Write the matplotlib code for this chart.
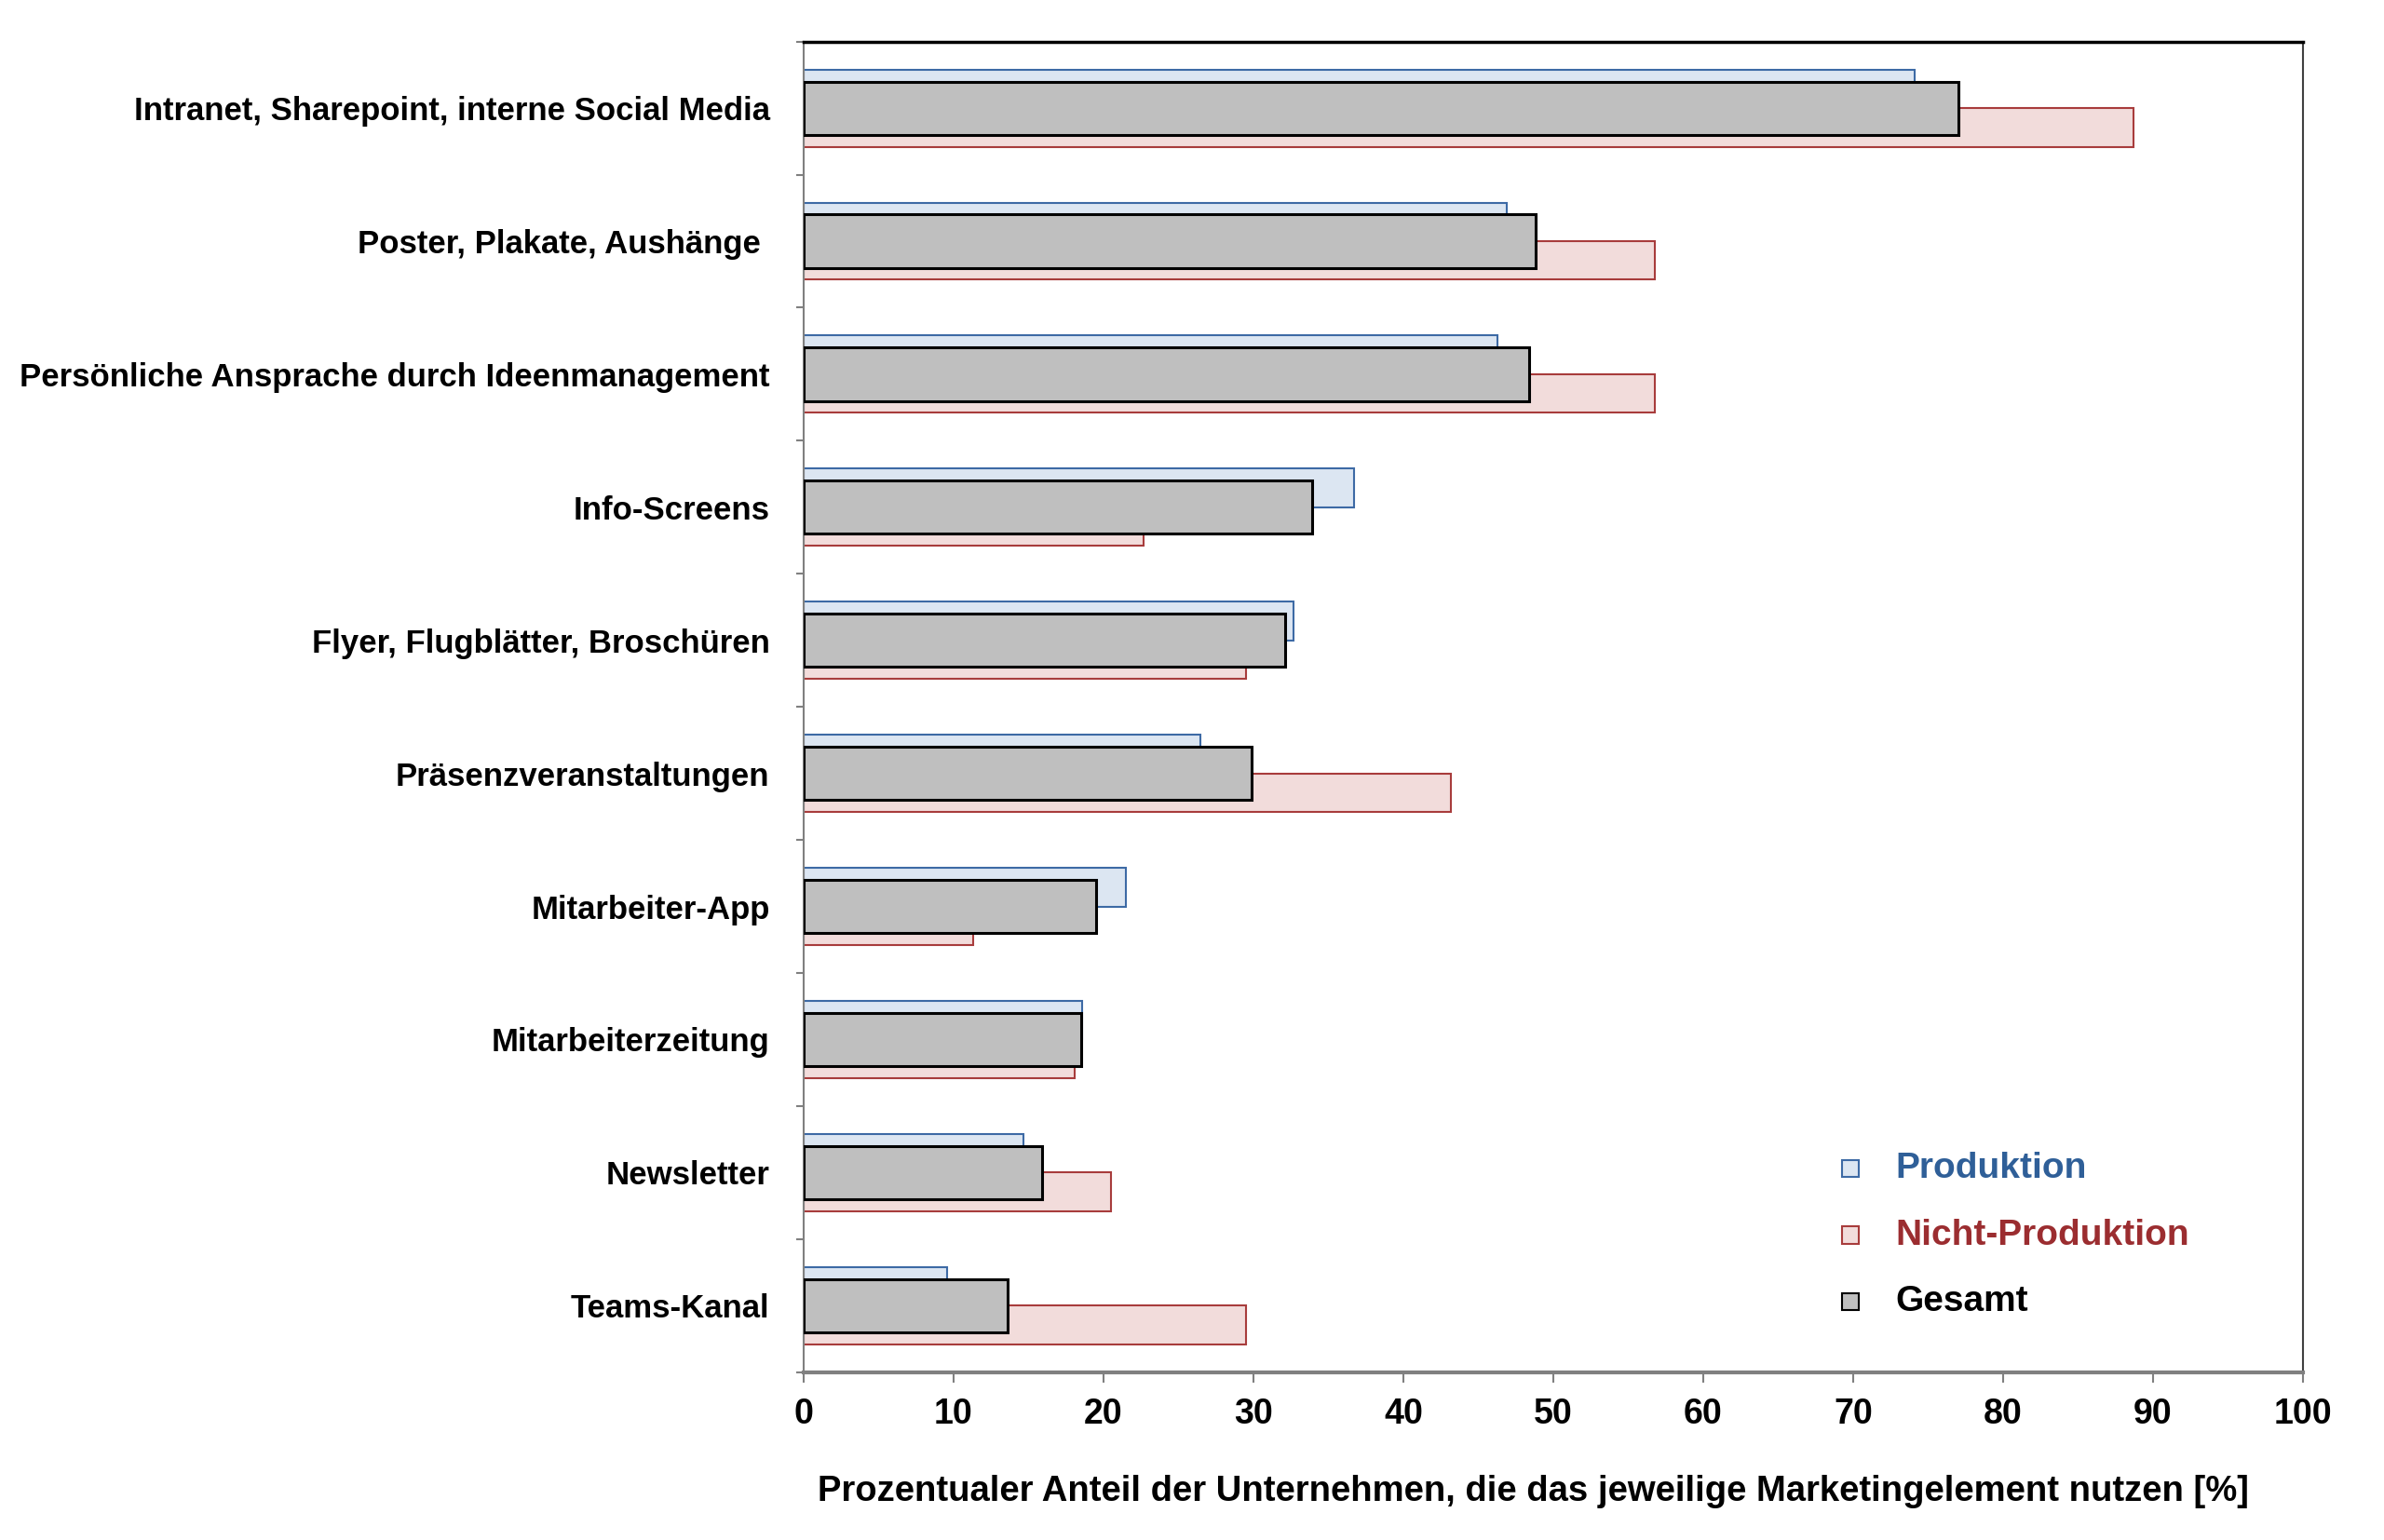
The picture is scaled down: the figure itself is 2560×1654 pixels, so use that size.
import matplotlib.pyplot as plt
import numpy as np

plt.rcParams['font.family'] = ['Liberation Sans', 'DejaVu Sans']
plt.rcParams['font.weight'] = 'bold'

categories = ['Intranet, Sharepoint, interne Social Media', 'Poster, Plakate, Aushänge ',
              'Persönliche Ansprache durch Ideenmanagement', 'Info-Screens',
              'Flyer, Flugblätter, Broschüren', 'Präsenzveranstaltungen', 'Mitarbeiter-App',
              'Mitarbeiterzeitung', 'Newsletter', 'Teams-Kanal']
produktion = [74.1, 46.9, 46.3, 36.7, 32.7, 26.5, 21.5, 18.6, 14.7, 9.6]
nicht_produktion = [88.7, 56.8, 56.8, 22.7, 29.5, 43.2, 11.3, 18.1, 20.5, 29.5]
gesamt = [77.0, 48.8, 48.4, 33.9, 32.1, 29.9, 19.5, 18.5, 15.9, 13.6]

blue_edge = '#3d6aa5'
blue_fill = '#dce6f2'
red_edge = '#a83c3c'
red_fill = '#f2dcdb'
blue_text = '#2f5f98'
red_text = '#9b2d30'

fig = plt.figure(figsize=(25.6, 16.54), dpi=100)
ax = fig.add_axes([0.337, 0.109, 0.629, 0.864])

y = np.arange(len(categories))
ax.barh(y - 0.145, produktion, height=0.29, color=blue_fill, edgecolor=blue_edge, linewidth=1.5, zorder=2)
ax.barh(y + 0.145, nicht_produktion, height=0.29, color=red_fill, edgecolor=red_edge, linewidth=1.5, zorder=2)
ax.barh(y, gesamt, height=0.40, color='#bfbfbf', edgecolor='black', linewidth=2.2, zorder=3)

ax.set_xlim(0, 100)
ax.set_ylim(len(categories) - 0.5, -0.5)
ax.set_xticks(np.arange(0, 101, 10))
ax.tick_params(axis='x', labelsize=27, length=8, width=1.5, color='#808080', pad=12)

ax.set_yticks(y)
ax.set_yticklabels(categories, fontsize=25)
ax.set_yticks(np.arange(-0.5, len(categories), 1), minor=True)
ax.tick_params(axis='y', which='major', length=0, pad=26)
ax.tick_params(axis='y', which='minor', length=6, width=1.5, color='#808080')

ax.spines['top'].set_linewidth(2.5)
ax.spines['top'].set_color('black')
ax.spines['right'].set_linewidth(1.5)
ax.spines['right'].set_color('#404040')
ax.spines['left'].set_linewidth(1.5)
ax.spines['left'].set_color('#808080')
ax.spines['bottom'].set_linewidth(3)
ax.spines['bottom'].set_color('#808080')

ax.set_xlabel('Prozentualer Anteil der Unternehmen, die das jeweilige Marketingelement nutzen [%]',
              fontsize=27.5, fontweight='bold')
ax.xaxis.set_label_coords(0.487, -0.077)

# legend drawn by hand as markers + coloured text
legend_items = [('Produktion', blue_fill, blue_edge, blue_text),
                ('Nicht-Produktion', red_fill, red_edge, red_text),
                ('Gesamt', '#bfbfbf', 'black', 'black')]
for i, (label, fc, ec, tc) in enumerate(legend_items):
    ly = 0.241 - i * 0.043
    fig.patches.append(plt.Rectangle((0.7725, ly - 0.0055), 0.007, 0.011, transform=fig.transFigure,
                                     facecolor=fc, edgecolor=ec, linewidth=1.5))
    fig.text(0.795, ly, label, color=tc, fontsize=28, fontweight='bold', va='center')

fig.savefig('out.png', dpi=100)
